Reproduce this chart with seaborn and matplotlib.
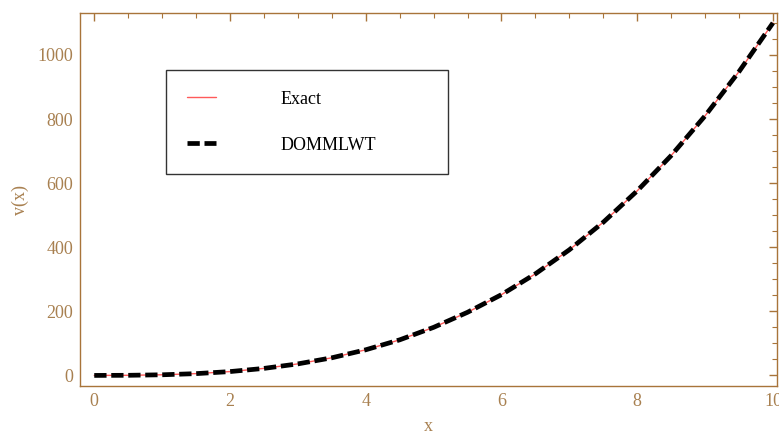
import numpy as np
import pandas as pd
import seaborn as sns
import matplotlib
matplotlib.use("Agg")
import matplotlib.pyplot as plt
from matplotlib.ticker import MultipleLocator

x_vals = [0, 0.5, 1, 1.5, 2, 2.5, 3, 3.5, 4, 4.5, 5, 5.5, 6, 6.5, 7, 7.5, 8, 8.5, 9, 9.5, 10]
exact_vals = [0, 0.4, 2, 5.6, 12, 21.9, 36, 55, 80, 111, 150, 197, 252, 317, 392, 478, 576, 686, 810, 948, 1100]
dommlwt_vals = [0, 0.4, 2, 5.6, 12, 21.9, 36, 55, 80, 111, 150, 197, 252, 317, 392, 478, 576, 686, 810, 948, 1100]
series_names = ["Exact", "DOMMLWT"]

sns.set_style("white")
plt.rcParams['font.family'] = ['Liberation Serif', 'DejaVu Serif']

axis_col = "#a8743a"
label_col = "#a88050"

fig = plt.figure(figsize=(7.79, 4.36), dpi=100)
ax = fig.add_axes([80/779, 1-386/436, 697/779, 373/436])

df_exact = pd.DataFrame({"x": x_vals, "v": exact_vals})
df_dom = pd.DataFrame({"x": x_vals, "v": dommlwt_vals})
sns.lineplot(data=df_exact, x="x", y="v", ax=ax, color="#ff5a5a", linewidth=1.0, label=series_names[0])
sns.lineplot(data=df_dom, x="x", y="v", ax=ax, color="black", linewidth=3.4, label=series_names[1])
ax.lines[1].set_dashes([2.6, 1.0])

ax.set_xlim(-0.21, 10.06)
ax.set_ylim(-33, 1131)
ax.xaxis.set_major_locator(MultipleLocator(2))
ax.xaxis.set_minor_locator(MultipleLocator(0.5))
ax.yaxis.set_major_locator(MultipleLocator(200))
ax.yaxis.set_minor_locator(MultipleLocator(50))

for s in ax.spines.values():
    s.set_color(axis_col)
    s.set_linewidth(1.0)
ax.tick_params(which="both", direction="in", top=True, right=True, color=axis_col,
               labelcolor=label_col, labelsize=13)
ax.tick_params(which="major", length=6, width=1.0, pad=5)
ax.tick_params(which="minor", length=3.5, width=0.8)

ax.set_xlabel("x", color=label_col, fontsize=13, labelpad=6)
ax.set_ylabel("v(x)", color=label_col, fontsize=13, labelpad=6)

leg = ax.legend(loc="upper left", bbox_to_anchor=(166/779, 1-173/436, 282/779, 103/436),
                bbox_transform=fig.transFigure, mode="expand",
                frameon=True, fancybox=False, fontsize=13, handlelength=1.6, handletextpad=3.6,
                labelspacing=1.6, borderpad=1.15, borderaxespad=0)
leg.get_frame().set_edgecolor("black")
leg.get_frame().set_linewidth(1.0)
for t in leg.get_texts():
    t.set_color("black")

fig.savefig("out.png", dpi=100)
